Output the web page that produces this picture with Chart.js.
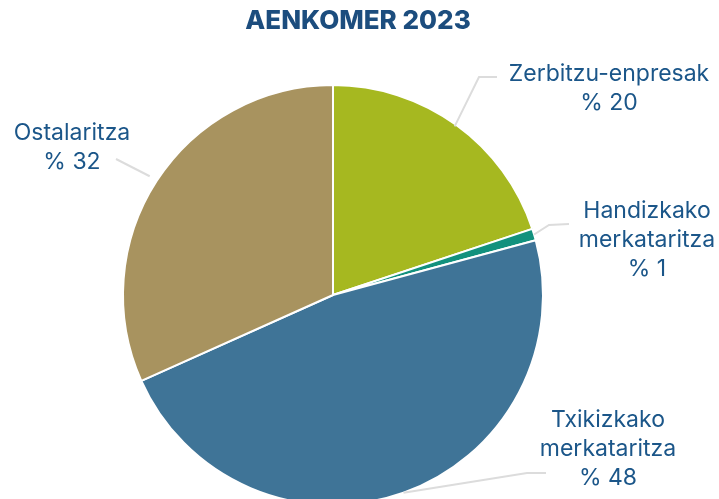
<!DOCTYPE html>
<html>
<head>
<meta charset="utf-8">
<script src="https://cdn.jsdelivr.net/npm/chart.js@4.4.0/dist/chart.umd.min.js"></script>
<style>
  html, body { margin: 0; padding: 0; background: #fff; overflow: hidden; }
  #wrap { position: relative; width: 719px; height: 530px; }
</style>
</head>
<body>
<div id="wrap"><canvas id="chart"></canvas></div>
<script>
const titleText = 'AENKOMER 2023';
const categories = ['Zerbitzu-enpresak', 'Handizkako merkataritza', 'Txikizkako merkataritza', 'Ostalaritza'];
const shares = [19.9, 0.9, 47.5, 31.7];
const shareLabels = ['% 20', '% 1', '% 48', '% 32'];
const sliceColors = ['#a6b820', '#12917d', '#3f7497', '#a8935f'];

// label layout: text lines, text centre, elbow point, end of leader
const labelLayout = [
  { lines: ['Zerbitzu-enpresak', '% 20'], x: 609, y: 74, elbow: [479, 77], end: [497, 77], startR: 0.99 },
  { lines: ['Handizkako', 'merkataritza', '% 1'], x: 647, y: 211, elbow: [549, 225], end: [569, 224], startR: 1.0 },
  { lines: ['Txikizkako', 'merkataritza', '% 48'], x: 608, y: 420, elbow: [527, 473], end: [546, 473], startR: 1.0 },
  { lines: ['Ostalaritza', '% 32'], x: 72, y: 133, elbow: null, end: [116, 159], startR: 1.04 }
];

const FONT = 'Inter, "Open Sans", sans-serif';
const TEXT_COLOR = '#1b5689';

const labelsPlugin = {
  id: 'outerLabels',
  afterDraw(chart) {
    const ctx = chart.ctx;
    const meta = chart.getDatasetMeta(0);
    ctx.save();
    // title
    ctx.fillStyle = '#1c4d7e';
    ctx.font = '800 26px ' + FONT;
    ctx.textAlign = 'center';
    ctx.textBaseline = 'middle';
    ctx.fillText(titleText, 358, 21);

    meta.data.forEach((arc, i) => {
      const L = labelLayout[i];
      const mid = (arc.startAngle + arc.endAngle) / 2;
      const r = arc.outerRadius * L.startR;
      const sx = arc.x + Math.cos(mid) * r;
      const sy = arc.y + Math.sin(mid) * r;
      ctx.strokeStyle = '#dcdcdc';
      ctx.lineWidth = 2;
      ctx.beginPath();
      ctx.moveTo(sx, sy);
      if (L.elbow) ctx.lineTo(L.elbow[0], L.elbow[1]);
      ctx.lineTo(L.end[0], L.end[1]);
      ctx.stroke();

      ctx.fillStyle = TEXT_COLOR;
      ctx.font = '23px ' + FONT;
      L.lines.forEach((t, k) => {
        ctx.fillText(t, L.x, L.y + k * 28.8);
      });
    });
    ctx.restore();
  }
};

new Chart(document.getElementById('chart'), {
  type: 'pie',
  data: {
    labels: categories,
    datasets: [{
      data: shares,
      backgroundColor: sliceColors,
      borderColor: '#ffffff',
      borderWidth: 2
    }]
  },
  options: {
    responsive: true,
    maintainAspectRatio: false,
    animation: false,
    layout: { padding: { left: 122, right: 175, top: 84, bottom: 24 } },
    plugins: {
      legend: { display: false },
      tooltip: { enabled: false },
      title: { display: false }
    }
  },
  plugins: [labelsPlugin]
});
</script>
</body>
</html>
